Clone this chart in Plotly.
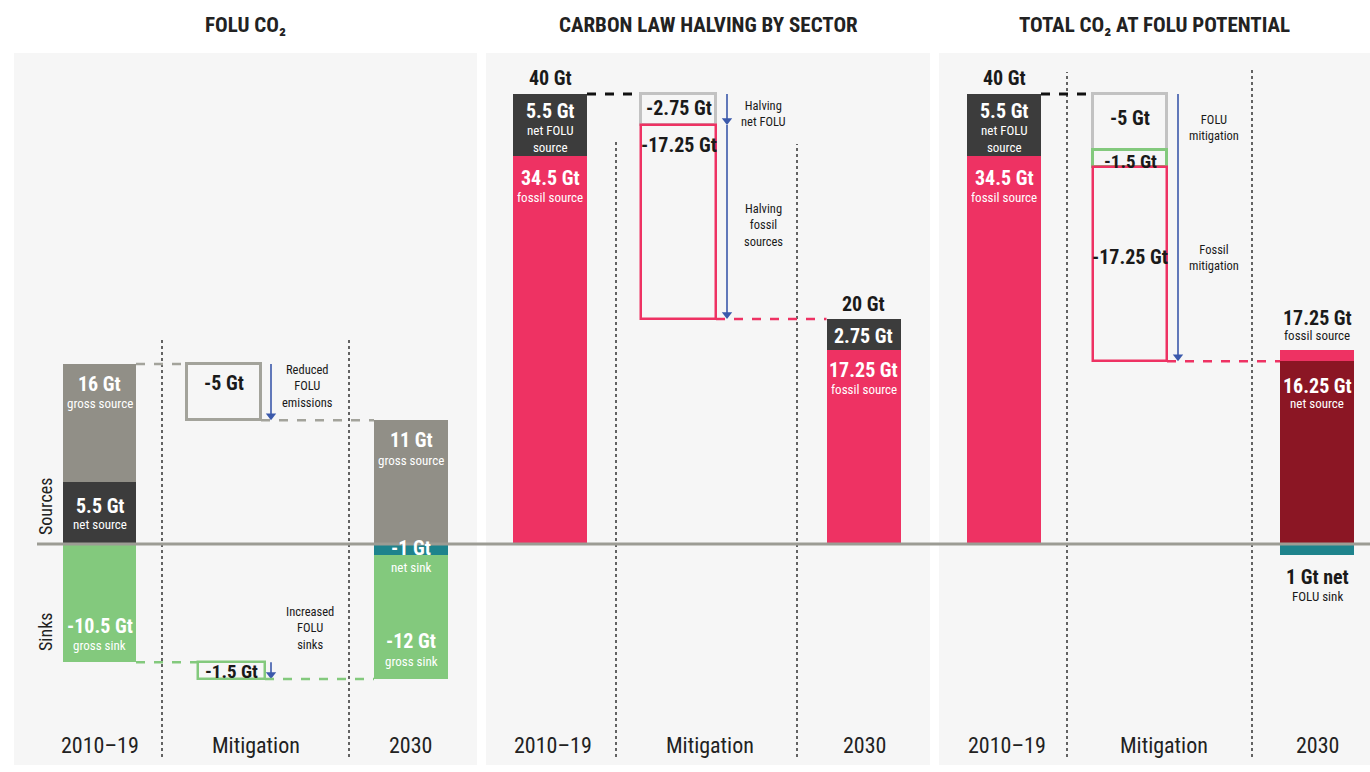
import plotly.graph_objects as go

# ---------------- data (Gt CO2) ----------------
PERIODS = ["2010–19", "Mitigation", "2030"]

# Panel 1: FOLU CO2   (index 0 = 2010–19, index 1 = 2030)
FOLU_GROSS_SOURCE = [16, 11]
FOLU_NET = [5.5, -1]
FOLU_GROSS_SINK = [-10.5, -12]
FOLU_MITIGATION = [-5, -1.5]          # reduced emissions, increased sinks

# Panel 2: Carbon law halving by sector
CL_TOTAL = [40, 20]
CL_NET_FOLU = [5.5, 2.75]
CL_FOSSIL = [34.5, 17.25]
CL_MITIGATION = [-2.75, -17.25]       # halving net FOLU, halving fossil

# Panel 3: Total CO2 at FOLU potential
TP_TOTAL_2010 = 40
TP_NET_FOLU_2010 = 5.5
TP_FOSSIL = [34.5, 17.25]
TP_MITIGATION = [-5, -1.5, -17.25]    # FOLU mitigation, sinks, fossil mitigation
TP_NET_2030 = 16.25
TP_SINK_2030 = -1

TITLES = ["FOLU CO₂", "CARBON LAW HALVING BY SECTOR", "TOTAL CO₂ AT FOLU POTENTIAL"]

# ---------------- styling / layout ----------------
W, H = 1370, 772
TOP, BOT = 53, 7
ZERO_PX, PX_PER_GT = 544, 11.25
Y_MAX = (ZERO_PX - TOP) / PX_PER_GT
Y_MIN = -((H - BOT) - ZERO_PX) / PX_PER_GT

PANELS = [(14, 477), (486, 930), (939, 1370)]
FONT = "Roboto Condensed, Liberation Sans Narrow, DejaVu Sans Condensed, Roboto, sans-serif"

GRAY = "#918f87"
DARK = "#3c3c3c"
GREEN = "#83c97d"
TEAL = "#1e838c"
PINK = "#ee3263"
DARKRED = "#8b1624"
BLUE = "#3b59ab"
BG = "#f6f6f6"
BOXGRAY = "#c2c2c2"
TXT = "#1a1a1a"
VAL = 20      # value label size
SUB = 13      # sub label size
SIDE = 12.5   # side note size
HEAD = 9      # arrow head marker size (px)

# category slot positions within each panel (pixels from panel left)
P1 = dict(bar1=85.5, box1=210, box2=217.5, bar2=397, w=73, wbox1=74, wbox2=67,
          cats=[86, 242, 396], dots=[148, 335], arrow=257, side=[293, 296])
P2 = dict(bar1=64, box=192.5, bar2=377.5, w=74, wbox=75,
          cats=[67, 224, 378], dots=[130, 311], arrow=241, side=277)
P3 = dict(bar1=65, box=191, bar2=378, w=74, wbox=74,
          cats=[68, 225, 378], dots=[128, 313], arrow=239, side=275)

fig = go.Figure()
annotations = []
shapes = []


def gt(v):
    return f"{v:g} Gt"


def bar(ax, xc, w, base, height, fill, line=None, lw=0):
    fig.add_trace(go.Bar(
        x=[xc], y=[height], base=[base], width=[w], xaxis=ax, yaxis="y",
        marker=dict(color=fill, line=dict(color=line or fill, width=lw)),
        showlegend=False, hoverinfo="skip"))


def text(ax, x, y, s, size=13, color=TXT, bold=False, yshift=0, xshift=0, yanchor="middle"):
    if bold:
        s = f"<b>{s}</b>"
    annotations.append(dict(
        xref=ax, yref="y", x=x, y=y, text=s, showarrow=False, yshift=yshift, xshift=xshift,
        xanchor="center", yanchor=yanchor, font=dict(family=FONT, size=size, color=color)))


def hline(ax, x0, x1, y, color, dash="dash", width=2.5):
    shapes.append(dict(type="line", xref=ax, yref="y", x0=x0, x1=x1, y0=y, y1=y,
                       line=dict(color=color, width=width, dash=dash), layer="above"))


def vdots(ax, x, y0, y1):
    shapes.append(dict(type="line", xref=ax, yref="y", x0=x, x1=x, y0=y0, y1=y1,
                       line=dict(color="#333333", width=1.5, dash="dot"), layer="below"))


def arrow(ax, x, y0, y1):
    # shaft
    shapes.append(dict(type="line", xref=ax, yref="y", x0=x, x1=x, y0=y0, y1=y1 + 0.5,
                       line=dict(color=BLUE, width=1.6), layer="above"))
    # head: triangle tip sits at y1
    fig.add_trace(go.Scatter(
        x=[x], y=[y1 + (HEAD / 2) / PX_PER_GT], xaxis=ax, yaxis="y", mode="markers",
        marker=dict(symbol="triangle-down", size=HEAD, color=BLUE, line=dict(width=0)),
        showlegend=False, hoverinfo="skip"))


def gy(px):
    """pixel row -> Gt (for layout guide positions)"""
    return (ZERO_PX - px) / PX_PER_GT


# ================= Panel 1 : FOLU CO2 =================
ax = "x"
gs0, gs1 = FOLU_GROSS_SOURCE
n0, n1 = FOLU_NET
sk0, sk1 = FOLU_GROSS_SINK
m_src, m_snk = FOLU_MITIGATION

bar(ax, P1["bar1"], P1["w"], n0, gs0 - n0, GRAY)
bar(ax, P1["bar1"], P1["w"], 0, n0, DARK)
bar(ax, P1["bar1"], P1["w"], 0, sk0, GREEN)

bar(ax, P1["box1"], P1["wbox1"], gs0, m_src, "rgba(0,0,0,0)", "#a3a39b", 3)
bar(ax, P1["box2"], P1["wbox2"], sk0, m_snk, "rgba(0,0,0,0)", GREEN, 2.5)

bar(ax, P1["bar2"], P1["w"] + 1, 0, gs1, GRAY)
bar(ax, P1["bar2"], P1["w"] + 1, n1, sk1 - n1, GREEN)
bar(ax, P1["bar2"], P1["w"] + 1, 0, n1, TEAL)

for d in P1["dots"]:
    vdots(ax, d, gy(757), gy(340))

r1 = P1["bar1"] + P1["w"] / 2
l2 = P1["bar2"] - (P1["w"] + 1) / 2
hline(ax, r1, P1["box1"] - P1["wbox1"] / 2, gs0, "#a3a39b")
hline(ax, P1["box1"] + P1["wbox1"] / 2, l2, gs0 + m_src, "#a3a39b")
hline(ax, r1, P1["box2"] - P1["wbox2"] / 2, sk0, GREEN)
hline(ax, P1["box2"] + P1["wbox2"] / 2, l2, sk0 + m_snk, GREEN)

arrow(ax, P1["arrow"], gs0, gs0 + m_src)
arrow(ax, P1["arrow"], sk0, sk0 + m_snk)

text(ax, P1["bar1"], gs0, gt(gs0), VAL, "white", True, yshift=-20)
text(ax, P1["bar1"], gs0, "gross source", SUB, "white", yshift=-39)
text(ax, P1["bar1"], n0, gt(n0), VAL, "white", True, yshift=-24)
text(ax, P1["bar1"], n0, "net source", SUB, "white", yshift=-42)
text(ax, P1["bar1"], sk0, gt(sk0), VAL, "white", True, yshift=36)
text(ax, P1["bar1"], sk0, "gross sink", SUB, "white", yshift=17)

text(ax, P1["box1"], gs0, gt(m_src), VAL, TXT, True, yshift=-19)
text(ax, P1["box2"], sk0 + m_snk / 2, gt(m_snk), 19, TXT, True, yshift=-1)

text(ax, P1["bar2"], gs1, gt(gs1), VAL, "white", True, yshift=-20)
text(ax, P1["bar2"], gs1, "gross source", SUB, "white", yshift=-40)
text(ax, P1["bar2"], 0, gt(n1), VAL, "white", True, yshift=-4)
text(ax, P1["bar2"], 0, "net sink", SUB, "white", yshift=-23)
text(ax, P1["bar2"], sk1, gt(sk1), VAL, "white", True, yshift=38)
text(ax, P1["bar2"], sk1, "gross sink", SUB, "white", yshift=18)

text(ax, P1["side"][0], gs0, "Reduced<br>FOLU<br>emissions", SIDE, TXT, yshift=-22)
text(ax, P1["side"][1], sk0, "Increased<br>FOLU<br>sinks", SIDE, TXT, yshift=34)

# ================= Panel 2 : Carbon law =================
ax = "x2"
t0, t1 = CL_TOTAL
f0, f1 = CL_NET_FOLU
fs0, fs1 = CL_FOSSIL
h_folu, h_fos = CL_MITIGATION

bar(ax, P2["bar1"], P2["w"], 0, fs0, PINK)
bar(ax, P2["bar1"], P2["w"], fs0, f0, DARK)
bar(ax, P2["box"], P2["wbox"], t0, h_folu, "rgba(0,0,0,0)", BOXGRAY, 3)
bar(ax, P2["box"], P2["wbox"], t0 + h_folu, h_fos, "rgba(0,0,0,0)", PINK, 2.5)
bar(ax, P2["bar2"], P2["w"], 0, fs1, PINK)
bar(ax, P2["bar2"], P2["w"], fs1, f1, DARK)

for d, top in zip(P2["dots"], [140, 144]):
    vdots(ax, d, gy(757), gy(top))

hline(ax, P2["bar1"] + P2["w"] / 2, P2["box"] - P2["wbox"] / 2, t0, "#111111", width=3)
hline(ax, P2["box"] + P2["wbox"] / 2, P2["bar2"] - P2["w"] / 2, t0 + h_folu + h_fos, PINK)

arrow(ax, P2["arrow"], t0, t0 + h_folu)
arrow(ax, P2["arrow"], t0 + h_folu, t0 + h_folu + h_fos)

text(ax, P2["bar1"], t0, gt(t0), VAL, TXT, True, yshift=16)
text(ax, P2["bar1"], t0, gt(f0), VAL, "white", True, yshift=-17)
text(ax, P2["bar1"], t0, "net FOLU<br>source", SUB, "white", yshift=-45)
text(ax, P2["bar1"], fs0, gt(fs0), VAL, "white", True, yshift=-22)
text(ax, P2["bar1"], fs0, "fossil source", SUB, "white", yshift=-42)

text(ax, P2["box"], t0, gt(h_folu), VAL, TXT, True, yshift=-14)
text(ax, P2["box"], t0 + h_folu, gt(h_fos), VAL, TXT, True, yshift=-20)

text(ax, P2["bar2"], t1, gt(t1), VAL, TXT, True, yshift=15)
text(ax, P2["bar2"], t1, gt(f1), VAL, "white", True, yshift=-17)
text(ax, P2["bar2"], fs1, gt(fs1), VAL, "white", True, yshift=-20)
text(ax, P2["bar2"], fs1, "fossil source", SUB, "white", yshift=-40)

text(ax, P2["side"], t0, "Halving<br>net FOLU", SIDE, TXT, yshift=-19)
text(ax, P2["side"], t0 + h_folu, "Halving<br>fossil<br>sources", SIDE, TXT, yshift=-100)

# ================= Panel 3 : Total at FOLU potential =================
ax = "x3"
fsa, fsb = TP_FOSSIL
mf, ms, mfos = TP_MITIGATION

bar(ax, P3["bar1"], P3["w"], 0, fsa, PINK)
bar(ax, P3["bar1"], P3["w"], fsa, TP_NET_FOLU_2010, DARK)

b1 = TP_TOTAL_2010
b2 = b1 + mf
b3 = b2 + ms
b4 = b3 + mfos
bar(ax, P3["box"], P3["wbox"], b1, mf, "rgba(0,0,0,0)", BOXGRAY, 3)
bar(ax, P3["box"], P3["wbox"], b2, ms, "rgba(0,0,0,0)", GREEN, 3)
bar(ax, P3["box"], P3["wbox"], b3, mfos, "rgba(0,0,0,0)", PINK, 2.5)

bar(ax, P3["bar2"], P3["w"], 0, fsb, PINK)
bar(ax, P3["bar2"], P3["w"], 0, TP_NET_2030, DARKRED)
bar(ax, P3["bar2"], P3["w"], 0, TP_SINK_2030, TEAL)

for d, top in zip(P3["dots"], [72, 70]):
    vdots(ax, d, gy(757), gy(top))

hline(ax, P3["bar1"] + P3["w"] / 2, P3["box"] - P3["wbox"] / 2, b1, "#111111", width=3)
hline(ax, P3["box"] + P3["wbox"] / 2, P3["bar2"] - P3["w"] / 2, b4, PINK)

arrow(ax, P3["arrow"], b1, b4)

text(ax, P3["bar1"], b1, gt(b1), VAL, TXT, True, yshift=16)
text(ax, P3["bar1"], b1, gt(TP_NET_FOLU_2010), VAL, "white", True, yshift=-17)
text(ax, P3["bar1"], b1, "net FOLU<br>source", SUB, "white", yshift=-45)
text(ax, P3["bar1"], fsa, gt(fsa), VAL, "white", True, yshift=-22)
text(ax, P3["bar1"], fsa, "fossil source", SUB, "white", yshift=-42)

text(ax, P3["box"], b1, gt(mf), VAL, TXT, True, yshift=-24)
text(ax, P3["box"], b2 + ms / 2, gt(ms), 19, TXT, True, yshift=-3)
text(ax, P3["box"], b3 + mfos / 2, gt(mfos), VAL, TXT, True, yshift=7)

text(ax, P3["bar2"], fsb, gt(fsb), VAL, TXT, True, yshift=32)
text(ax, P3["bar2"], fsb, "fossil source", SUB, TXT, yshift=14)
text(ax, P3["bar2"], TP_NET_2030, gt(TP_NET_2030), VAL, "white", True, yshift=-25)
text(ax, P3["bar2"], TP_NET_2030, "net source", SUB, "white", yshift=-42)
text(ax, P3["bar2"], TP_SINK_2030, f"{abs(TP_SINK_2030):g} Gt net", VAL, TXT, True, yshift=-22)
text(ax, P3["bar2"], TP_SINK_2030, "FOLU sink", SUB, TXT, yshift=-41)

text(ax, P3["side"], b1, "FOLU<br>mitigation", SIDE, TXT, yshift=-33)
text(ax, P3["side"], b3, "Fossil<br>mitigation", SIDE, TXT, yshift=-90)

# ================= category labels, titles, axis words =================
for axn, P in (("x", P1), ("x2", P2), ("x3", P3)):
    for cx, lab in zip(P["cats"], PERIODS):
        text(axn, cx, gy(745), lab, 22, "#222222")

for (l, r), t in zip(PANELS, TITLES):
    annotations.append(dict(xref="paper", yref="paper", x=(l + r) / 2 / W, y=1 + (TOP - 25) / (H - TOP - BOT),
                            text=f"<b>{t}</b>", showarrow=False, xanchor="center", yanchor="middle",
                            font=dict(family=FONT, size=21, color="#222222")))

for word, ypx in (("Sources", 507), ("Sinks", 632)):
    annotations.append(dict(xref="paper", yref="y", x=45 / W, y=gy(ypx), text=word, textangle=-90,
                            showarrow=False, xanchor="center", yanchor="middle",
                            font=dict(family=FONT, size=18, color="#222222")))

# zero line across panels
shapes.append(dict(type="line", xref="paper", yref="y", x0=37 / W, x1=1, y0=0, y1=0,
                   line=dict(color="#9c9c94", width=3), layer="above"))

axes = {}
for i, (l, r) in enumerate(PANELS):
    key = "xaxis" if i == 0 else f"xaxis{i + 1}"
    axes[key] = dict(domain=[l / W, r / W], range=[0, r - l], visible=False, fixedrange=True)

fig.update_layout(
    width=W, height=H,
    margin=dict(l=0, r=0, t=TOP, b=BOT),
    paper_bgcolor="white", plot_bgcolor=BG,
    barmode="overlay", bargap=0,
    yaxis=dict(range=[Y_MIN, Y_MAX], visible=False, fixedrange=True),
    showlegend=False,
    annotations=annotations, shapes=shapes,
    **axes,
)

fig.write_html("out.html", config={"displayModeBar": False},
               post_script="document.body.style.margin='0';document.body.style.overflow='hidden';")
